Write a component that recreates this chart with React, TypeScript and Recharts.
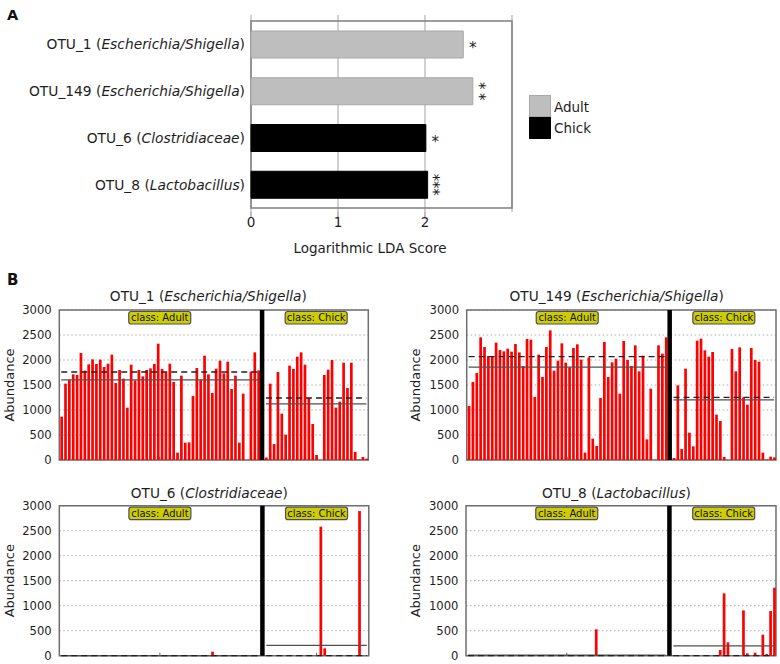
import React from 'react';
import {
  BarChart,
  Bar,
  XAxis,
  YAxis,
  CartesianGrid,
  ReferenceLine,
  ReferenceArea,
  Cell,
  LabelList,
} from 'recharts';

const FONT = '"DejaVu Sans", "Noto Sans", sans-serif';
const TEXT = '#1e1e1e';

// ---------- Panel A: LDA scores ----------
const ldaOtus = ['OTU_1', 'OTU_149', 'OTU_6', 'OTU_8'];
const ldaTaxa = ['Escherichia/Shigella', 'Escherichia/Shigella', 'Clostridiaceae', 'Lactobacillus'];
const ldaScores = [2.44, 2.55, 2.01, 2.03];
const ldaClasses = ['Adult', 'Adult', 'Chick', 'Chick'];
const ldaStars = ['*', '**', '*', '***'];
const ldaTicks = [0, 1, 2];
const classNames = ['Adult', 'Chick'];
const classFill: Record<string, string> = { Adult: '#bebebe', Chick: '#000000' };
const classStroke: Record<string, string> = { Adult: '#a8a8a8', Chick: '#000000' };

// ---------- Panel B: per-sample abundance ----------
const abundanceTicks = [0, 500, 1000, 1500, 2000, 2500, 3000];

const otu1Adult = [
  867, 1527, 1600, 1713, 1700, 2140, 1787, 1913, 2013, 1920,
  2007, 1860, 1927, 2107, 1540, 1800, 1627, 1047, 1907, 1593,
  1800, 1673, 1800, 1833, 1920, 2327, 1820, 1753, 1927, 1560,
  147, 1687, 347, 353, 1280, 1840, 1607, 2087, 1713, 1340,
  1827, 1987, 1733, 1967, 1420, 1687, 347, 1327, 0, 1767,
  2153, 1793,
];
const otu1Chick = [
  50, 1527, 320, 1760, 927, 507, 1887, 1820, 2067, 2153,
  1907, 1240, 720, 100, 0, 1700, 1807, 2000, 1047, 1167,
  1947, 1440, 1947, 160, 10, 60, 27,
];

const otu149Adult = [
  1080, 1560, 1740, 2453, 2260, 2080, 2080, 2347, 2200, 2173,
  2227, 2167, 2320, 2153, 1880, 2420, 2407, 1260, 2107, 1660,
  2260, 2593, 1787, 1987, 2333, 1947, 1853, 2240, 2313, 2007,
  147, 2053, 427, 280, 1240, 2360, 1660, 1953, 2027, 1327,
  2380, 2000, 1880, 2293, 1773, 2087, 413, 1427, 0, 2293,
  2127, 2453,
];
const otu149Chick = [
  40, 1493, 220, 1827, 547, 273, 2387, 2427, 2193, 2067,
  2160, 907, 780, 60, 0, 2220, 1773, 2253, 1253, 1107,
  2240, 2000, 1967, 147, 7, 67, 53,
];

const otu6Adult = [
  0, 0, 0, 0, 0, 0, 0, 0, 0, 0,
  0, 0, 0, 0, 0, 0, 0, 0, 0, 0,
  0, 0, 0, 0, 0, 0, 0, 0, 0, 0,
  0, 0, 0, 0, 0, 0, 0, 0, 0, 80,
  0, 0, 0, 0, 0, 0, 0, 0, 0, 0,
  0, 0,
];
const otu6Chick = [
  0, 0, 0, 0, 0, 0, 0, 0, 0, 0,
  0, 0, 0, 0, 2580, 147, 0, 0, 0, 0,
  0, 0, 0, 0, 2893, 0, 0,
];

const otu8Adult = [
  0, 0, 0, 0, 0, 0, 0, 0, 0, 0,
  0, 0, 0, 0, 0, 0, 0, 0, 0, 0,
  0, 0, 0, 0, 0, 0, 0, 0, 0, 0,
  0, 0, 0, 527, 0, 0, 0, 0, 0, 0,
  0, 0, 0, 0, 0, 0, 0, 0, 0, 0,
  0, 0,
];
const otu8Chick = [
  0, 0, 0, 0, 0, 0, 0, 0, 0, 0,
  0, 0, 113, 1247, 267, 0, 0, 0, 907, 47,
  0, 60, 0, 420, 33, 893, 1360,
];

// ---------- helpers ----------
const mean = (a: number[]) => a.reduce((s, v) => s + v, 0) / a.length;
const median = (a: number[]) => {
  const s = [...a].sort((x, y) => x - y);
  const m = Math.floor(s.length / 2);
  return s.length % 2 ? s[m] : (s[m - 1] + s[m]) / 2;
};

const buildRows = (adult: number[], chick: number[]) => [
  ...adult.map((v, i) => ({ id: `a${i + 1}`, value: v })),
  { id: 'sep', value: null as number | null },
  ...chick.map((v, i) => ({ id: `c${i + 1}`, value: v })),
];

const ldaRows = ldaOtus.map((otu, i) => ({
  otu,
  taxon: ldaTaxa[i],
  score: ldaScores[i],
  cls: ldaClasses[i],
  stars: ldaStars[i],
}));

// ---------- Panel A components ----------
const LdaTick = (props: any) => {
  const { x, y, payload } = props;
  const idx = ldaOtus.indexOf(payload.value);
  return (
    <text x={x} y={y} dy="0.36em" textAnchor="end" fontSize={13.8} fontFamily={FONT} fill={TEXT}>
      <tspan>{payload.value} (</tspan>
      <tspan fontStyle="italic">{ldaTaxa[idx]}</tspan>
      <tspan>)</tspan>
    </text>
  );
};

// significance stars, written top-to-bottom as one rotated string
const StarLabel = (props: any) => {
  const { x, y, width, height, value } = props;
  const stars = String(value);
  const n = stars.length;
  const fs = 15;
  const step = 22 / n;
  const spacing = n > 1 ? step - 0.5 * fs : 0;
  const cx = Number(x) + Number(width) + 9.5;
  const cy = Number(y) + Number(height) / 2;
  if (n === 1) {
    return (
      <text x={cx} y={cy + 0.575 * fs} textAnchor="middle" fontSize={fs} fontFamily={FONT} fill={TEXT}>
        {stars}
      </text>
    );
  }
  const baseX = cx - 0.575 * fs;
  return (
    <text
      transform={`translate(${baseX}, ${cy + spacing / 2}) rotate(90)`}
      textAnchor="middle"
      fontSize={fs}
      letterSpacing={spacing}
      fontFamily={FONT}
      fill={TEXT}
    >
      {stars}
    </text>
  );
};

// ---------- Panel B components ----------
const ClassBox = (props: any) => {
  const { viewBox, text } = props;
  if (!viewBox) return null;
  const { x, y, width, height } = viewBox;
  const cx = x + width / 2;
  const w = 62;
  const h = 12.5;
  return (
    <g>
      <line x1={cx} x2={cx} y1={y} y2={y + 3} stroke="#666" strokeWidth={1} />
      <line x1={cx} x2={cx} y1={y + height} y2={y + height - 3} stroke="#666" strokeWidth={1} />
      <rect x={cx - w / 2} y={y + 1.5} width={w} height={h} rx={2.5} fill="#cdcd00" stroke="#4d4d5e" strokeWidth={1.2} />
      <text x={cx} y={y + 1.5 + h / 2} dy="0.36em" textAnchor="middle" fontSize={10} fontFamily={FONT} fill="#111">
        {text}
      </text>
    </g>
  );
};

type PanelProps = {
  adult: number[];
  chick: number[];
  left: number;
  top: number;
  width: number;
  yAxisWidth: number;
  marginTop: number;
  marginRight: number;
};

const AbundancePanel = ({ adult, chick, left, top, width, yAxisWidth, marginTop, marginRight }: PanelProps) => {
  const rows = buildRows(adult, chick);
  const aMean = mean(adult);
  const aMed = median(adult);
  const cMean = mean(chick);
  const cMed = median(chick);
  const aFirst = 'a1';
  const aLast = `a${adult.length}`;
  const cFirst = 'c1';
  const cLast = `c${chick.length}`;
  return (
    <div style={{ position: 'absolute', left, top }}>
      <BarChart
        width={width}
        height={150 + marginTop + 10}
        data={rows}
        margin={{ top: marginTop, right: marginRight, bottom: 10, left: 0 }}
        barCategoryGap={0}
      >
        <CartesianGrid vertical={false} stroke="#adadad" strokeDasharray="1.5 2.5" />
        <XAxis dataKey="id" type="category" hide />
        <YAxis
          type="number"
          domain={[0, 3000]}
          ticks={abundanceTicks}
          width={yAxisWidth}
          axisLine={false}
          tickLine={false}
          tickSize={0}
          tickMargin={7.6}
          tick={{ fontSize: 11.6, fontFamily: FONT, fill: TEXT }}
          interval={0}
        />
        <ReferenceArea y1={0} y2={3000} fill="none" stroke="#6e6e6e" strokeWidth={1.5} ifOverflow="visible" />
        <Bar dataKey="value" fill="#ff0000" barSize={2.7} isAnimationActive={false} />
        <ReferenceArea
          x1={aFirst}
          x2={aLast}
          fill="none"
          stroke="none"
          ifOverflow="visible"
          label={<ClassBox text="class: Adult" />}
        />
        <ReferenceArea
          x1={cFirst}
          x2={cLast}
          fill="none"
          stroke="none"
          ifOverflow="visible"
          label={<ClassBox text="class: Chick" />}
        />
        <ReferenceLine x="sep" stroke="#000" strokeWidth={4.5} ifOverflow="visible" />
        <ReferenceLine
          segment={[{ x: aFirst, y: aMean }, { x: aLast, y: aMean }]}
          stroke="#505050"
          strokeWidth={1.3}
          ifOverflow="visible"
        />
        <ReferenceLine
          segment={[{ x: aFirst, y: aMed }, { x: aLast, y: aMed }]}
          stroke="#222"
          strokeWidth={1.3}
          strokeDasharray="6 4"
          ifOverflow="visible"
        />
        <ReferenceLine
          segment={[{ x: cFirst, y: cMean }, { x: cLast, y: cMean }]}
          stroke="#505050"
          strokeWidth={1.3}
          ifOverflow="visible"
        />
        <ReferenceLine
          segment={[{ x: cFirst, y: cMed }, { x: cLast, y: cMed }]}
          stroke="#222"
          strokeWidth={1.3}
          strokeDasharray="6 4"
          ifOverflow="visible"
        />
      </BarChart>
    </div>
  );
};

const Title = ({ x, y, id, taxon }: { x: number; y: number; id: string; taxon: string }) => (
  <text x={x} y={y} textAnchor="middle" fontSize={13.7} fontFamily={FONT} fill={TEXT}>
    <tspan>{id} (</tspan>
    <tspan fontStyle="italic">{taxon}</tspan>
    <tspan>)</tspan>
  </text>
);

const Abundance = ({ x, y }: { x: number; y: number }) => (
  <text
    transform={`translate(${x + 0.365 * 13}, ${y}) rotate(-90)`}
    textAnchor="middle"
    fontSize={13}
    fontFamily={FONT}
    fill={TEXT}
  >
    Abundance
  </text>
);

export default function App() {
  return (
    <div
      style={{
        position: 'absolute',
        left: 0,
        top: 0,
        width: 780,
        height: 664,
        background: '#fff',
        overflow: 'hidden',
      }}
    >
      {/* Panel A */}
      <div style={{ position: 'absolute', left: 0, top: 0 }}>
        <BarChart
          layout="vertical"
          width={620}
          height={245}
          data={ldaRows}
          margin={{ top: 15, right: 108, bottom: 3, left: 0 }}
        >
          <CartesianGrid horizontal={false} stroke="#b8b8b8" strokeWidth={1.3} />
          <XAxis
            type="number"
            domain={[0, 3]}
            ticks={ldaTicks}
            axisLine={false}
            tickLine={{ stroke: '#7a7a7a' }}
            tickSize={5}
            tickMargin={0}
            height={30}
            tick={{ fontSize: 13.5, fontFamily: FONT, fill: TEXT }}
          />
          <YAxis
            type="category"
            dataKey="otu"
            width={251}
            axisLine={false}
            tickLine={false}
            tickSize={0}
            tickMargin={6}
            padding={{ top: 6, bottom: 4 }}
            tick={<LdaTick />}
            interval={0}
          />
          <ReferenceArea x1={0} x2={3} fill="none" stroke="#7f7f7f" strokeWidth={1.5} ifOverflow="visible" />
          <Bar dataKey="score" barSize={27} isAnimationActive={false}>
            {ldaRows.map((r, i) => (
              <Cell key={i} fill={classFill[r.cls]} stroke={classStroke[r.cls]} strokeWidth={1} />
            ))}
            <LabelList dataKey="stars" content={<StarLabel />} />
          </Bar>
        </BarChart>
      </div>

      {/* Panel B */}
      <AbundancePanel adult={otu1Adult} chick={otu1Chick} left={0} top={300} width={380} yAxisWidth={59.3} marginTop={10} marginRight={11.7} />
      <AbundancePanel adult={otu149Adult} chick={otu149Chick} left={390} top={300} width={390} yAxisWidth={76.7} marginTop={10} marginRight={4} />
      <AbundancePanel adult={otu6Adult} chick={otu6Chick} left={0} top={494} width={380} yAxisWidth={59.3} marginTop={11.7} marginRight={11.2} />
      <AbundancePanel adult={otu8Adult} chick={otu8Chick} left={390} top={494} width={390} yAxisWidth={76} marginTop={11.7} marginRight={4} />

      {/* Text overlay */}
      <svg
        width={780}
        height={664}
        style={{ position: 'absolute', left: 0, top: 0, pointerEvents: 'none' }}
      >
        <text x={7} y={19.5} fontSize={14.5} fontWeight="bold" fontFamily={FONT} fill="#111">A</text>
        <text x={7} y={285} fontSize={15} fontWeight="bold" fontFamily={FONT} fill="#111">B</text>

        <text x={370} y={252.5} textAnchor="middle" fontSize={13.5} fontFamily={FONT} fill={TEXT}>
          Logarithmic LDA Score
        </text>

        {classNames.map((c, i) => (
          <g key={c}>
            <rect
              x={529.5}
              y={95.5 + i * 22}
              width={21}
              height={21}
              fill={classFill[c]}
              stroke={classStroke[c]}
              strokeWidth={1}
            />
            <text x={554} y={111.6 + i * 21.6} fontSize={13.5} fontFamily={FONT} fill={TEXT}>
              {c}
            </text>
          </g>
        ))}

        <Title x={208.3} y={301} id="OTU_1" taxon="Escherichia/Shigella" />
        <Title x={616.7} y={301} id="OTU_149" taxon="Escherichia/Shigella" />
        <Title x={209.3} y={497.5} id="OTU_6" taxon="Clostridiaceae" />
        <Title x={616.5} y={497.5} id="OTU_8" taxon="Lactobacillus" />

        <Abundance x={9.5} y={385} />
        <Abundance x={415.7} y={385} />
        <Abundance x={9.5} y={580.7} />
        <Abundance x={415.7} y={580.7} />
      </svg>
    </div>
  );
}
